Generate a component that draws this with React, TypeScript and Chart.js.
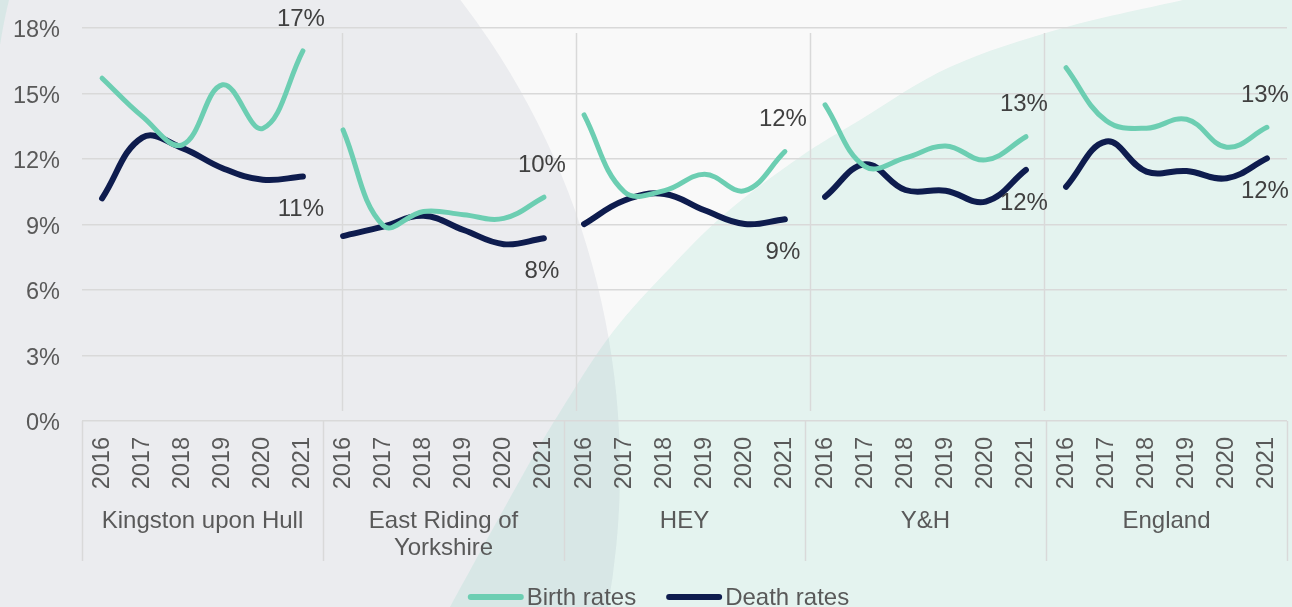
import React, { useEffect, useRef } from 'react';
import { Chart, registerables } from 'chart.js';

Chart.register(...registerables);

// ---------- data ----------
const years = ['2016', '2017', '2018', '2019', '2020', '2021'];
const groupNames: (string | string[])[] = [
  'Kingston upon Hull',
  ['East Riding of', 'Yorkshire'],
  'HEY',
  'Y&H',
  'England',
];

const birthHull = [15.7, 13.95, 12.65, 15.4, 13.4, 16.95];
const deathHull = [10.2, 12.98, 12.5, 11.58, 11.05, 11.2];
const birthERY = [13.33, 8.95, 9.6, 9.45, 9.28, 10.25];
const deathERY = [8.47, 8.9, 9.4, 8.75, 8.1, 8.37];
const birthHEY = [14.02, 10.5, 10.55, 11.3, 10.55, 12.34];
const deathHEY = [9.02, 10.1, 10.4, 9.65, 9.02, 9.24];
const birthYH = [14.48, 11.65, 12.05, 12.6, 11.96, 13.02];
const deathYH = [10.27, 11.76, 10.58, 10.55, 10.05, 11.5];
const birthEng = [16.18, 13.75, 13.41, 13.82, 12.54, 13.45];
const deathEng = [10.73, 12.8, 11.42, 11.45, 11.12, 12.03];

const birthSeries = [birthHull, birthERY, birthHEY, birthYH, birthEng];
const deathSeries = [deathHull, deathERY, deathHEY, deathYH, deathEng];

const birthEndLabels = ['17%', '10%', '12%', '13%', '13%'];
const deathEndLabels = ['11%', '8%', '9%', '12%', '12%'];

const yMin = 0;
const yMax = 18;
const yStep = 3;

// ---------- style ----------
const TEAL = '#6CCEB2';
const NAVY = '#0E1C4E';
const AXIS_TEXT = '#595959';
const LABEL_TEXT = '#404040';
const GRID = '#D9D9D9';
const FONT_FAMILY = '"Liberation Sans", Arial, sans-serif';
const FONT_SIZE = 24;
const TICK_FONT_SIZE = 23.5;
const W = 1292;
const H = 607;
// decorative vertical rules inside the plot (category-index positions)
const plotRules = [5.97, 11.8, 17.62, 23.45];

const categories: string[] = [];
groupNames.forEach(() => years.forEach((y) => categories.push(y)));

const padSeries = (g: number, arr: number[]) => {
  const out: (number | null)[] = new Array(categories.length).fill(null);
  arr.forEach((v, i) => (out[g * years.length + i] = v));
  return out;
};

function smoothPath(ctx: CanvasRenderingContext2D, pts: number[][]) {
  ctx.moveTo(pts[0][0], pts[0][1]);
  for (let i = 0; i < pts.length - 1; i++) {
    const p0 = pts[i - 1] || pts[i];
    const p1 = pts[i];
    const p2 = pts[i + 1];
    const p3 = pts[i + 2] || p2;
    ctx.bezierCurveTo(
      p1[0] + (p2[0] - p0[0]) / 6,
      p1[1] + (p2[1] - p0[1]) / 6,
      p2[0] - (p3[0] - p1[0]) / 6,
      p2[1] - (p3[1] - p1[1]) / 6,
      p2[0],
      p2[1]
    );
  }
}

const backgroundPlugin = {
  id: 'bgDeco',
  beforeDraw(chart: any) {
    const ctx = chart.ctx as CanvasRenderingContext2D;
    const w = chart.width;
    const h = chart.height;
    ctx.save();
    ctx.fillStyle = '#F9F9F9';
    ctx.fillRect(0, 0, w, h);
    // lavender disc
    ctx.beginPath();
    ctx.arc(-152, 470, 772, 0, Math.PI * 2);
    ctx.fillStyle = 'rgba(15,31,79,0.06)';
    ctx.fill();
    // teal sweep
    const pts = [
      [440, 625],
      [450, 607],
      [520, 480],
      [560, 412],
      [612, 333],
      [670, 268],
      [727, 212],
      [800, 157],
      [860, 120],
      [950, 67],
      [1063, 28],
      [1183, 0],
      [1215, -8],
    ];
    ctx.beginPath();
    smoothPath(ctx, pts);
    ctx.lineTo(w + 5, -8);
    ctx.lineTo(w + 5, h + 20);
    ctx.lineTo(440, h + 20);
    ctx.closePath();
    ctx.fillStyle = 'rgba(110,205,178,0.15)';
    ctx.fill();
    // small teal sliver top-left
    ctx.beginPath();
    ctx.moveTo(0, 0);
    ctx.lineTo(9, 0);
    ctx.quadraticCurveTo(4, 20, 0, 45);
    ctx.closePath();
    ctx.fill();
    ctx.restore();
  },
};

const structurePlugin = {
  id: 'structure',
  beforeDatasetsDraw(chart: any) {
    const ctx = chart.ctx as CanvasRenderingContext2D;
    const xs = chart.scales.x;
    const area = chart.chartArea;
    ctx.save();
    ctx.strokeStyle = GRID;
    ctx.lineWidth = 1.5;
    plotRules.forEach((v) => {
      const x = Math.round(xs.getPixelForValue(v)) + 0.5;
      ctx.beginPath();
      ctx.moveTo(x, area.top + 5);
      ctx.lineTo(x, area.bottom - 10);
      ctx.stroke();
    });
    ctx.restore();
  },
  afterDraw(chart: any) {
    const ctx = chart.ctx as CanvasRenderingContext2D;
    const xs = chart.scales.x;
    const area = chart.chartArea;
    const n = years.length;
    ctx.save();
    ctx.strokeStyle = GRID;
    ctx.lineWidth = 1.5;
    const bounds: number[] = [area.left];
    for (let g = 1; g < groupNames.length; g++) {
      bounds.push((xs.getPixelForValue(g * n - 1) + xs.getPixelForValue(g * n)) / 2);
    }
    bounds.push(area.right);
    bounds.forEach((b) => {
      const x = Math.round(b) + 0.5;
      ctx.beginPath();
      ctx.moveTo(x, area.bottom);
      ctx.lineTo(x, area.bottom + 140);
      ctx.stroke();
    });
    ctx.fillStyle = AXIS_TEXT;
    ctx.font = `${FONT_SIZE}px ${FONT_FAMILY}`;
    ctx.textAlign = 'center';
    ctx.textBaseline = 'middle';
    groupNames.forEach((name, g) => {
      const cx = (bounds[g] + bounds[g + 1]) / 2;
      const lines = Array.isArray(name) ? name : [name];
      lines.forEach((ln, i) => ctx.fillText(ln, cx, area.bottom + 100 + i * 27));
    });

    // legend
    const items = [
      { text: 'Birth rates', color: TEAL, lw: 6 },
      { text: 'Death rates', color: NAVY, lw: 6 },
    ];
    const lineLen = 56;
    const gap = 3;
    const itemGap = 30;
    const widths = items.map((it) => lineLen + gap + ctx.measureText(it.text).width);
    const total = widths.reduce((a, b) => a + b, 0) + itemGap * (items.length - 1);
    let x = chart.width / 2 + 12.5 - total / 2;
    const ly = chart.height - 10;
    ctx.textAlign = 'left';
    ctx.textBaseline = 'middle';
    items.forEach((it, i) => {
      ctx.beginPath();
      ctx.lineCap = 'round';
      ctx.lineWidth = it.lw;
      ctx.strokeStyle = it.color;
      ctx.moveTo(x + it.lw / 2, ly);
      ctx.lineTo(x + lineLen - it.lw / 2, ly);
      ctx.stroke();
      ctx.fillStyle = AXIS_TEXT;
      ctx.fillText(it.text, x + lineLen + gap, ly + 1);
      x += widths[i] + itemGap;
    });
    ctx.restore();
  },
};

const endLabelsPlugin = {
  id: 'endLabels',
  afterDatasetsDraw(chart: any) {
    const ctx = chart.ctx as CanvasRenderingContext2D;
    const xs = chart.scales.x;
    const ys = chart.scales.y;
    const n = years.length;
    ctx.save();
    ctx.fillStyle = LABEL_TEXT;
    ctx.font = `${FONT_SIZE}px ${FONT_FAMILY}`;
    ctx.textAlign = 'center';
    ctx.textBaseline = 'middle';
    groupNames.forEach((_, g) => {
      const idx = g * n + n - 1;
      const x = xs.getPixelForValue(idx);
      ctx.fillText(birthEndLabels[g], x - 2, ys.getPixelForValue(birthSeries[g][n - 1]) - 32);
      ctx.fillText(deathEndLabels[g], x - 2, ys.getPixelForValue(deathSeries[g][n - 1]) + 33);
    });
    ctx.restore();
  },
};

export default function App() {
  const ref = useRef<HTMLCanvasElement>(null);

  useEffect(() => {
    if (!ref.current) return;
    const datasets: any[] = [];
    groupNames.forEach((_, g) => {
      datasets.push({
        label: 'Birth rates',
        data: padSeries(g, birthSeries[g]),
        borderColor: TEAL,
        backgroundColor: TEAL,
        borderWidth: 5,
        borderCapStyle: 'round',
        borderJoinStyle: 'round',
        pointRadius: 0,
        tension: 0.4,
        spanGaps: false,
        fill: false,
      });
    });
    groupNames.forEach((_, g) => {
      datasets.push({
        label: 'Death rates',
        data: padSeries(g, deathSeries[g]),
        borderColor: NAVY,
        backgroundColor: NAVY,
        borderWidth: 6,
        borderCapStyle: 'round',
        borderJoinStyle: 'round',
        pointRadius: 0,
        tension: 0.4,
        spanGaps: false,
        fill: false,
      });
    });

    const chart = new Chart(ref.current, {
      type: 'line',
      data: { labels: categories, datasets },
      options: {
        responsive: false,
        animation: false,
        events: [],
        layout: { autoPadding: false, padding: { top: 28, right: 5, left: 0, bottom: 36 } },
        plugins: {
          legend: { display: false },
          tooltip: { enabled: false },
        },
        scales: {
          x: {
            offset: true,
            grid: { display: false, drawTicks: false, offset: true },
            border: { display: false },
            ticks: {
              autoSkip: false,
              maxRotation: 90,
              minRotation: 90,
              padding: 16,
              color: AXIS_TEXT,
              font: { size: TICK_FONT_SIZE, family: FONT_FAMILY },
            },
            afterFit: (s: any) => {
              s.height = 150;
              s.paddingLeft = 0;
              s.paddingRight = 0;
            },
          },
          y: {
            min: yMin,
            max: yMax,
            grid: { color: GRID, lineWidth: 1.5, drawTicks: false },
            border: { display: false },
            ticks: {
              stepSize: yStep,
              padding: 22,
              labelOffset: 3,
              color: AXIS_TEXT,
              font: { size: TICK_FONT_SIZE, family: FONT_FAMILY },
              callback: (v: any) => `${v}%`,
            },
            afterFit: (s: any) => {
              s.width = 82;
              s.paddingTop = 0;
              s.paddingBottom = 0;
            },
          },
        },
      },
      plugins: [backgroundPlugin, structurePlugin, endLabelsPlugin],
    });
    return () => chart.destroy();
  }, []);

  return (
    <div style={{ position: 'absolute', left: 0, top: 0, width: W, height: H }}>
      <canvas ref={ref} width={W} height={H} style={{ display: 'block' }} />
    </div>
  );
}
